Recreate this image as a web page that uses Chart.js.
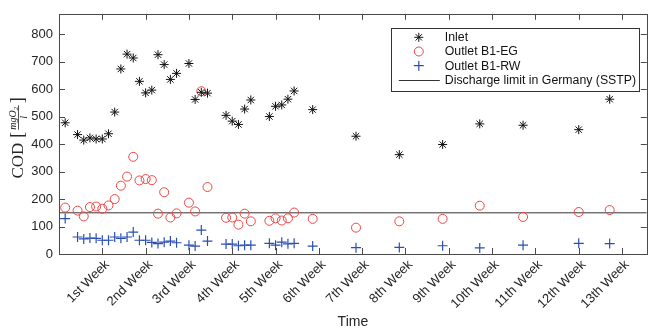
<!DOCTYPE html>
<html>
<head>
<meta charset="utf-8">
<title>COD over time</title>
<script src="https://cdn.jsdelivr.net/npm/chart.js@4/dist/chart.umd.min.js"></script>
<style>
    html, body { margin: 0; padding: 0; background: #fff; }
    #codChart { display: block; }
</style>
</head>
<body>
<canvas id="codChart" width="653" height="331"></canvas>
<script>
// day of each sample (days since the start of the campaign)
const sample_days = [1, 3, 4, 5, 6, 7, 8, 9, 10, 11, 12, 13, 14, 15, 16, 17, 18, 19,
    21, 22, 23, 24, 27, 28, 29, 30, 31, 34, 35, 36, 37, 38, 41, 48, 55, 62, 68, 75, 84, 89];

// COD values in mg O2 / l
const inlet_cod = [478, 435, 415, 423, 419, 419, 438, 517, 674, 728, 714, 629, 587, 597, 726, 690, 636, 658,
    694, 563, 589, 586, 505, 484, 472, 528, 561, 501, 538, 543, 564, 594, 526, 429, 362, 399, 474, 469, 453, 564];
const outlet_eg_cod = [169, 158, 137, 171, 173, 165, 177, 200, 249, 282, 354, 268, 273, 269, 147, 225, 133, 148,
    187, 155, 593, 244, 132, 133, 107, 147, 119, 121, 130, 122, 130, 151, 128, 96, 119, 128, 176, 135, 153, 160];
const outlet_rw_cod = [129, 62, 55, 58, 57, 50, 50, 62, 57, 62, 80, 50, 50, 42, 38, 43, 47, 41,
    32, 29, 87, 47, 36, 36, 30, 32, 32, 39, 32, 43, 37, 39, 29, 23, 24, 30, 22, 32, 39, 38];

// discharge limit (SSTP) and axis ranges
const discharge_limit = 150;
const x_range = [0, 95];
const y_range = [0, 875];

// x tick positions (days) and their labels
const week_days = [7, 14, 21, 28, 35, 42, 49, 56, 63, 70, 77, 84, 91];
const week_labels = ['1st Week', '2nd Week', '3rd Week', '4th Week', '5th Week', '6th Week', '7th Week',
    '8th Week', '9th Week', '10th Week', '11th Week', '12th Week', '13th Week'];
const y_ticks = [0, 100, 200, 300, 400, 500, 600, 700, 800];

const text_color = '#262626',
    frame_color = '#4a4a4a',
    sans = 'Liberation Sans, Arial, Helvetica, sans-serif',
    serif = 'Liberation Serif, Times New Roman, serif';

Chart.defaults.font.family = sans;

// turn a list of values into {x, y} points on the sample days
toPoints = (values) => values.map((v, i) => ({ x: sample_days[i], y: v }));

// draw one marker the way the legend needs it
function drawMarker(c, ds, x, y) {
    const r = ds.pointRadius;
    c.save();
    c.strokeStyle = ds.pointBorderColor;
    c.lineWidth = ds.pointBorderWidth;
    c.beginPath();
    if (ds.pointStyle === 'circle') {
        c.arc(x, y, r, 0, Math.PI * 2);
    } else {
        c.moveTo(x - r, y); c.lineTo(x + r, y);
        c.moveTo(x, y - r); c.lineTo(x, y + r);
        if (ds.pointStyle === 'star') {
            const d = r * Math.SQRT1_2;
            c.moveTo(x - d, y - d); c.lineTo(x + d, y + d);
            c.moveTo(x - d, y + d); c.lineTo(x + d, y - d);
        }
    }
    c.stroke();
    c.restore();
}

// box round the plot with inward ticks on all four sides
function drawFrame(chart) {
    const c = chart.ctx,
        area = chart.chartArea,
        xs = chart.scales.x,
        ys = chart.scales.y,
        len = 6;
    c.save();
    c.strokeStyle = frame_color;
    c.lineWidth = 1;
    c.beginPath();
    week_days.forEach(d => {
        const px = Math.round(xs.getPixelForValue(d)) + 0.5;
        c.moveTo(px, area.bottom); c.lineTo(px, area.bottom - len);
        c.moveTo(px, area.top); c.lineTo(px, area.top + len);
    });
    y_ticks.forEach(v => {
        const py = Math.round(ys.getPixelForValue(v)) + 0.5;
        c.moveTo(area.left, py); c.lineTo(area.left + len, py);
        c.moveTo(area.right, py); c.lineTo(area.right - len, py);
    });
    c.stroke();
    c.strokeRect(Math.round(area.left) + 0.5, Math.round(area.top) + 0.5,
        Math.round(area.right - area.left), Math.round(area.bottom - area.top));
    c.restore();
}

// y title: "COD [mgO2 / l]" with a stacked fraction, rotated
function drawYTitle(chart) {
    const c = chart.ctx,
        area = chart.chartArea;
    c.save();
    c.fillStyle = text_color;
    c.strokeStyle = text_color;
    c.textBaseline = 'middle';
    c.translate(18, (area.top + area.bottom) / 2 + 4);
    c.rotate(-Math.PI / 2);

    c.font = `17px ${serif}`;
    const cod_w = c.measureText('COD').width;
    c.font = `italic 10px ${serif}`;
    const num_w = c.measureText('mgO').width + 5;
    c.font = `18px ${serif}`;
    const br_w = c.measureText('[').width;
    const total = cod_w + 5 + br_w * 2 + num_w + 4;

    let x = -total / 2;
    c.textAlign = 'left';
    c.font = `17px ${serif}`;
    c.fillText('COD', x, 1);
    x += cod_w + 5;
    c.font = `18px ${serif}`;
    c.fillText('[', x, 0);
    x += br_w + 2;
    // numerator
    c.font = `italic 10px ${serif}`;
    c.fillText('mgO', x, -5);
    const mgo_w = c.measureText('mgO').width;
    c.font = `italic 7px ${serif}`;
    c.fillText('2', x + mgo_w, -2);
    // fraction bar
    c.lineWidth = 0.8;
    c.beginPath();
    c.moveTo(x, 0.5); c.lineTo(x + num_w, 0.5);
    c.stroke();
    // denominator
    c.font = `italic 10px ${serif}`;
    c.textAlign = 'center';
    c.fillText('l', x + num_w / 2, 6);
    x += num_w + 2;
    c.textAlign = 'left';
    c.font = `18px ${serif}`;
    c.fillText(']', x, 0);
    c.restore();
}

// legend box in the upper right corner
function drawLegend(chart) {
    const c = chart.ctx,
        area = chart.chartArea,
        w = 248, h = 63,
        left = area.right - 8 - w,
        top = area.top + 14,
        row_h = 14.2;
    c.save();
    c.fillStyle = '#fff';
    c.fillRect(left, top, w, h);
    c.strokeStyle = '#333';
    c.lineWidth = 1;
    c.strokeRect(Math.round(left) + 0.5, Math.round(top) + 0.5, w, h);
    c.font = `12.3px ${sans}`;
    c.textBaseline = 'middle';
    c.fillStyle = '#111';
    chart.data.datasets.forEach((ds, i) => {
        const y = top + 9.5 + i * row_h;
        if (ds.type === 'line') {
            c.strokeStyle = ds.borderColor;
            c.lineWidth = ds.borderWidth;
            c.beginPath();
            c.moveTo(left + 8, Math.round(y) + 0.5);
            c.lineTo(left + 49, Math.round(y) + 0.5);
            c.stroke();
        } else {
            drawMarker(c, ds, left + 28, y);
        }
        c.fillStyle = '#111';
        c.fillText(ds.label, left + 54, y + 0.5);
    });
    c.restore();
}

const matlabLook = {
    id: 'matlabLook',
    afterDatasetsDraw(chart) {
        drawFrame(chart);
        drawYTitle(chart);
        drawLegend(chart);
    }
};

const ctx = document.getElementById('codChart').getContext('2d');

new Chart(ctx, {
    type: 'scatter',
    data: {
        datasets: [{
            label: 'Inlet',
            data: toPoints(inlet_cod),
            pointStyle: 'star',
            pointRadius: 4.5,
            pointBorderColor: '#111',
            pointBackgroundColor: '#111',
            pointBorderWidth: 1
        }, {
            label: 'Outlet B1-EG',
            data: toPoints(outlet_eg_cod),
            pointStyle: 'circle',
            pointRadius: 4.5,
            pointBorderColor: '#f04545',
            pointBackgroundColor: 'rgba(0,0,0,0)',
            pointBorderWidth: 1
        }, {
            label: 'Outlet B1-RW',
            data: toPoints(outlet_rw_cod),
            pointStyle: 'cross',
            pointRadius: 5,
            pointBorderColor: '#2a4fb4',
            pointBackgroundColor: '#2a4fb4',
            pointBorderWidth: 1.2
        }, {
            label: 'Discharge limit in Germany (SSTP)',
            type: 'line',
            data: [{ x: x_range[0], y: discharge_limit }, { x: x_range[1], y: discharge_limit }],
            borderColor: '#333',
            borderWidth: 1,
            pointRadius: 0,
            fill: false
        }]
    },
    options: {
        responsive: false,
        animation: false,
        events: [],
        layout: { padding: { top: 9, right: 1, left: 0, bottom: 0 } },
        plugins: {
            legend: { display: false },
            tooltip: { enabled: false }
        },
        scales: {
            x: {
                type: 'linear',
                min: x_range[0],
                max: x_range[1],
                afterBuildTicks: (scale) => { scale.ticks = week_days.map(v => ({ value: v })); },
                afterFit: (scale) => { scale.height = 77; },
                grid: { display: false, drawTicks: false },
                border: { display: false },
                ticks: {
                    autoSkip: false,
                    minRotation: 45,
                    maxRotation: 45,
                    padding: 3,
                    labelOffset: 5,
                    color: text_color,
                    font: { size: 13 },
                    callback: (value, index) => week_labels[index]
                },
                title: {
                    display: true,
                    text: 'Time',
                    color: text_color,
                    font: { size: 14 },
                    padding: { top: 0, bottom: 0 }
                }
            },
            y: {
                min: y_range[0],
                max: y_range[1],
                afterFit: (scale) => { scale.width = 59; },
                grid: { display: false, drawTicks: false },
                border: { display: false },
                ticks: {
                    stepSize: 100,
                    includeBounds: false,
                    padding: 6,
                    color: text_color,
                    font: { size: 13 }
                }
            }
        }
    },
    plugins: [matlabLook]
});
</script>
</body>
</html>
